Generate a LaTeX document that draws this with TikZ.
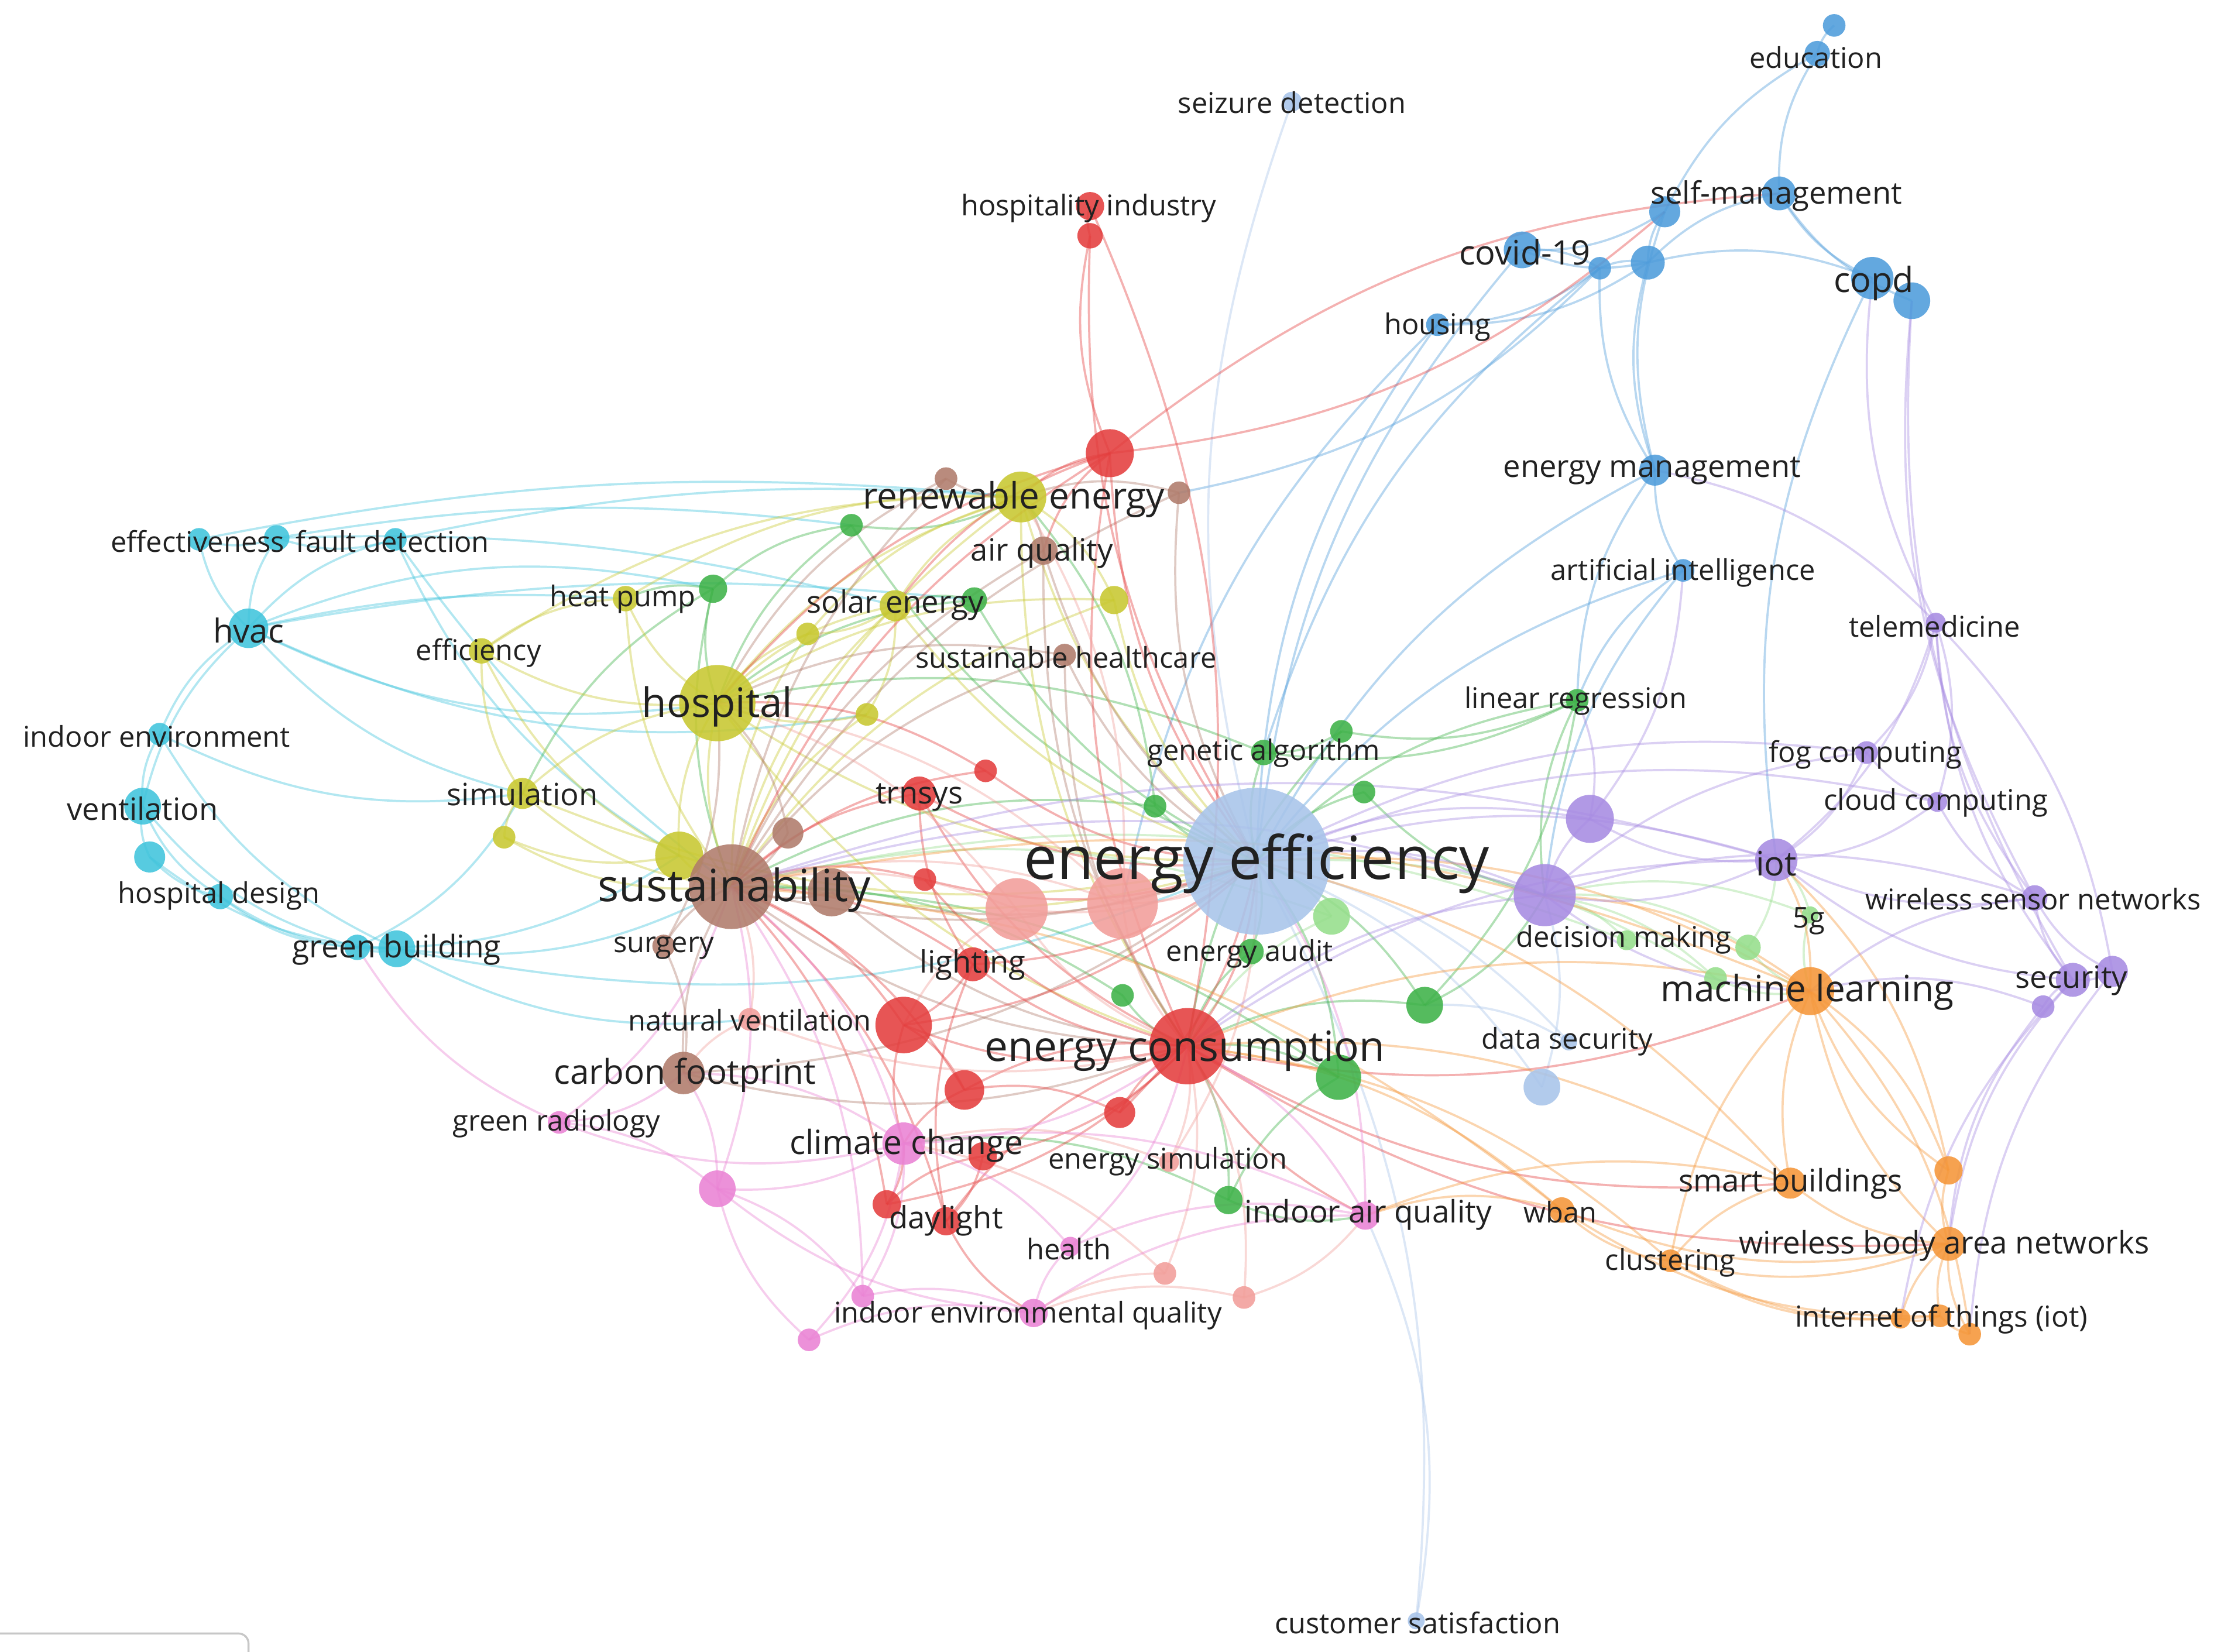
\documentclass[tikz,border=0pt]{standalone}
\usepackage{fontspec}
\setmainfont{Open Sans}
\pgfdeclarelayer{bg}
\pgfsetlayers{bg,main}
\definecolor{cred}{RGB}{228,62,62}
\definecolor{cgreen}{RGB}{62,178,72}
\definecolor{cblue}{RGB}{78,156,219}
\definecolor{cyel}{RGB}{200,200,48}
\definecolor{cpur}{RGB}{167,139,226}
\definecolor{clblue}{RGB}{168,196,234}
\definecolor{corange}{RGB}{245,150,56}
\definecolor{cbrown}{RGB}{176,124,108}
\definecolor{cpink}{RGB}{234,130,212}
\definecolor{ccyan}{RGB}{64,196,220}
\definecolor{csalmon}{RGB}{242,158,154}
\definecolor{clgreen}{RGB}{150,222,140}
\tikzset{
  nd/.style 2 args={circle, inner sep=0pt, fill=#1, fill opacity=.88, minimum size=#2*0.05cm},
  lbl/.style={inner sep=0pt, yshift=-1.8pt, text=black!87, font=\fontsize{#1}{#1}\selectfont},
  edge/.style={draw=#1, draw opacity=.4, line width=1.1pt, bend right=17},
  longedge/.style={draw=#1, draw opacity=.4, line width=1.1pt, bend right=8}
}
\begin{document}
\begin{tikzpicture}[x=0.025cm, y=-0.025cm]
\useasboundingbox (0,0) rectangle (1568,1170);
% ---------- nodes ----------
% blue
\node[nd={cblue}{8}] (b1) at (1299,18) {};
\node[nd={cblue}{9}] (edu) at (1287,38) {};
\node[nd={cblue}{12}] (selfm) at (1260,137) {};
\node[nd={cblue}{11}] (b4) at (1179,150) {};
\node[nd={cblue}{12}] (b5) at (1167,186) {};
\node[nd={cblue}{8}] (b6) at (1133,190) {};
\node[nd={cblue}{13}] (covid) at (1078,177) {};
\node[nd={cblue}{15}] (copd) at (1326,197) {};
\node[nd={cblue}{13}] (b9) at (1354,213) {};
\node[nd={cblue}{8}] (housing) at (1018,230) {};
\node[nd={cblue}{11}] (emgmt) at (1172,333) {};
\node[nd={cblue}{8}] (ai) at (1192,404) {};
% light blue
\node[nd={clblue}{52}] (ee) at (890,610) {};
\node[nd={clblue}{7}] (seiz) at (915,72) {};
\node[nd={clblue}{6}] (cust) at (1003,1148) {};
\node[nd={clblue}{6}] (dsec) at (1111,738) {};
\node[nd={clblue}{13}] (lb2) at (1092,770) {};
% green
\node[nd={cgreen}{8}] (g1) at (603,372) {};
\node[nd={cgreen}{10}] (g2) at (505,417) {};
\node[nd={cgreen}{9}] (g3) at (690,425) {};
\node[nd={cgreen}{9}] (ga) at (895,533) {};
\node[nd={cgreen}{8}] (g5) at (950,518) {};
\node[nd={cgreen}{8}] (g6) at (966,561) {};
\node[nd={cgreen}{8}] (g7) at (818,571) {};
\node[nd={cgreen}{9}] (eaudit) at (886,674) {};
\node[nd={cgreen}{8}] (g9) at (795,705) {};
\node[nd={cgreen}{13}] (g10) at (1009,712) {};
\node[nd={cgreen}{16}] (g11) at (948,763) {};
\node[nd={cgreen}{10}] (g12) at (870,850) {};
\node[nd={cgreen}{8}] (linreg) at (1117,496) {};
% light green
\node[nd={clgreen}{13}] (lg1) at (943,649) {};
\node[nd={clgreen}{7}] (lg2) at (1152,666) {};
\node[nd={clgreen}{9}] (lg3) at (1238,671) {};
\node[nd={clgreen}{8}] (lg4) at (1215,693) {};
\node[nd={clgreen}{6}] (fiveg) at (1282,648) {};
% yellow
\node[nd={cyel}{18}] (renew) at (723,352) {};
\node[nd={cyel}{9}] (heatp) at (443,424) {};
\node[nd={cyel}{9}] (effic) at (341,461) {};
\node[nd={cyel}{11}] (solar) at (634,429) {};
\node[nd={cyel}{8}] (y5) at (572,449) {};
\node[nd={cyel}{10}] (y6) at (789,425) {};
\node[nd={cyel}{27}] (hosp) at (508,498) {};
\node[nd={cyel}{8}] (y8) at (614,506) {};
\node[nd={cyel}{11}] (simul) at (370,562) {};
\node[nd={cyel}{8}] (y10) at (357,593) {};
\node[nd={cyel}{17}] (y11) at (481,606) {};
% brown
\node[nd={cbrown}{30}] (sust) at (518,628) {};
\node[nd={cbrown}{17}] (br2) at (589,632) {};
\node[nd={cbrown}{11}] (br3) at (558,590) {};
\node[nd={cbrown}{8}] (br4) at (670,339) {};
\node[nd={cbrown}{8}] (br5) at (835,349) {};
\node[nd={cbrown}{10}] (airq) at (739,390) {};
\node[nd={cbrown}{8}] (shc) at (754,464) {};
\node[nd={cbrown}{8}] (surg) at (470,670) {};
\node[nd={cbrown}{15}] (carbon) at (484,760) {};
% red
\node[nd={cred}{10}] (hospind) at (772,146) {};
\node[nd={cred}{9}] (r2) at (772,167) {};
\node[nd={cred}{17}] (r3) at (786,321) {};
\node[nd={cred}{12}] (trnsys) at (651,562) {};
\node[nd={cred}{8}] (r5) at (698,546) {};
\node[nd={cred}{8}] (r6) at (655,623) {};
\node[nd={cred}{12}] (light) at (689,683) {};
\node[nd={cred}{20}] (r8) at (640,726) {};
\node[nd={cred}{27}] (econs) at (841,741) {};
\node[nd={cred}{14}] (r10) at (683,772) {};
\node[nd={cred}{11}] (r11) at (793,788) {};
\node[nd={cred}{10}] (r12) at (696,819) {};
\node[nd={cred}{10}] (r13) at (628,853) {};
\node[nd={cred}{10}] (dayl) at (670,865) {};
% salmon
\node[nd={csalmon}{22}] (s1) at (720,644) {};
\node[nd={csalmon}{25}] (s2) at (795,640) {};
\node[nd={csalmon}{7}] (esim) at (828,823) {};
\node[nd={csalmon}{8}] (s4) at (825,902) {};
\node[nd={csalmon}{8}] (s5) at (881,919) {};
\node[nd={csalmon}{8}] (natv) at (531,722) {};
% pink
\node[nd={cpink}{15}] (climate) at (640,810) {};
\node[nd={cpink}{8}] (greenrad) at (396,795) {};
\node[nd={cpink}{13}] (p3) at (508,842) {};
\node[nd={cpink}{7}] (health) at (758,883) {};
\node[nd={cpink}{10}] (ieq) at (732,930) {};
\node[nd={cpink}{8}] (p6) at (611,918) {};
\node[nd={cpink}{8}] (p7) at (573,949) {};
\node[nd={cpink}{10}] (iaq) at (967,861) {};
% orange
\node[nd={corange}{17}] (ml) at (1282,702) {};
\node[nd={corange}{11}] (smartb) at (1268,838) {};
\node[nd={corange}{10}] (o3) at (1380,829) {};
\node[nd={corange}{9}] (wban) at (1106,857) {};
\node[nd={corange}{8}] (clust) at (1183,893) {};
\node[nd={corange}{12}] (wban2) at (1380,881) {};
\node[nd={corange}{7}] (iot1) at (1346,934) {};
\node[nd={corange}{8}] (iot2) at (1374,932) {};
\node[nd={corange}{8}] (iot3) at (1395,945) {};
% purple
\node[nd={cpur}{17}] (pu1) at (1126,580) {};
\node[nd={cpur}{22}] (dm) at (1094,634) {};
\node[nd={cpur}{15}] (iot) at (1258,609) {};
\node[nd={cpur}{8}] (fog) at (1322,533) {};
\node[nd={cpur}{7}] (cloud) at (1372,568) {};
\node[nd={cpur}{7}] (tele) at (1371,441) {};
\node[nd={cpur}{9}] (wsn) at (1441,636) {};
\node[nd={cpur}{12}] (secu) at (1468,694) {};
\node[nd={cpur}{11}] (pu8) at (1496,688) {};
\node[nd={cpur}{8}] (pu9) at (1447,713) {};
% cyan
\node[nd={ccyan}{8}] (effect) at (141,382) {};
\node[nd={ccyan}{9}] (cy2) at (196,381) {};
\node[nd={ccyan}{8}] (fault) at (280,382) {};
\node[nd={ccyan}{14}] (hvac) at (176,445) {};
\node[nd={ccyan}{8}] (indenv) at (113,520) {};
\node[nd={ccyan}{13}] (vent) at (101,571) {};
\node[nd={ccyan}{11}] (cy7) at (106,607) {};
\node[nd={ccyan}{9}] (hdesign) at (156,635) {};
\node[nd={ccyan}{9}] (gb1) at (253,671) {};
\node[nd={ccyan}{13}] (gb2) at (281,672) {};
% ---------- edges ----------
\begin{pgfonlayer}{bg}
\fill[white] (0,0) rectangle (1568,1170);
\foreach \a/\b in {effect/hvac, cy2/hvac, fault/hvac, effect/cy2, cy2/fault, hvac/indenv, indenv/vent, vent/cy7, cy7/hdesign, hdesign/gb1, gb1/gb2, vent/gb1, cy7/gb2, hvac/vent, hvac/simul, hvac/hosp, indenv/simul, hvac/y8, gb2/sust, gb2/natv, gb1/simul, gb1/y11, hdesign/gb2, gb2/ee, fault/y11, indenv/gb2, vent/hdesign, g2/hvac}
  \draw[edge=ccyan] (\a.center) to (\b.center);
\foreach \a/\b in {heatp/hvac, g3/hvac, renew/effect, g1/cy2, solar/cy2, renew/fault, fault/sust}
  \draw[longedge=ccyan] (\a.center) to (\b.center);
\foreach \a/\b in {b1/edu, edu/selfm, edu/b4, selfm/copd, selfm/b9, copd/b5, b4/b5, b5/b6, b6/covid, covid/b5, housing/b5, housing/b6, b4/emgmt, b5/emgmt, emgmt/ai, emgmt/ee, ai/ee, covid/ee, housing/ee, b6/ga, emgmt/linreg, ai/linreg, ai/dm, br5/b6, housing/s2, covid/b4, selfm/b5, b6/emgmt, copd/iot}
  \draw[edge=cblue] (\a.center) to (\b.center);
\foreach \a/\b in {seiz/ee, cust/ee, dsec/ee, lb2/ee, lb2/dm, dsec/g10, cust/iaq}
  \draw[edge=clblue] (\a.center) to (\b.center);
\foreach \a/\b in {g1/renew, g1/hosp, g1/g2, g2/heatp, g2/hosp, g2/sust, g3/solar, g3/ee, g3/hosp, ga/ee, ga/g5, g5/linreg, g6/ee, g7/ee, g7/sust, eaudit/ee, eaudit/econs, g9/econs, g9/sust, g10/ee, g10/econs, g10/dm, g11/econs, g11/ee, g11/g12, g12/econs, g12/iaq, linreg/ee, linreg/dm, g10/linreg, ga/hosp, g5/econs, g6/dm, g11/sust, g12/climate, g7/renew, ga/linreg, g1/ee, g2/simul}
  \draw[edge=cgreen] (\a.center) to (\b.center);
\foreach \a/\b in {lg1/ee, lg1/econs, lg2/dm, lg3/ml, lg3/iot, lg4/ml, lg4/ee, fiveg/iot, fiveg/ml, lg2/sust, lg3/dm, lg4/dm, lg1/sust, fiveg/dm}
  \draw[edge=clgreen] (\a.center) to (\b.center);
\foreach \a/\b in {renew/hosp, renew/solar, renew/sust, renew/ee, renew/heatp, renew/effic, heatp/hosp, heatp/effic, effic/hosp, effic/simul, solar/hosp, solar/sust, y5/hosp, y5/solar, y6/renew, y6/hosp, y6/sust, hosp/sust, hosp/y11, hosp/simul, hosp/ee, hosp/y8, y8/solar, simul/y10, simul/sust, y10/y11, y11/sust, y11/ee, hosp/econs, renew/econs, effic/y11, heatp/sust, y5/sust, y6/ee, solar/ee, y10/sust, simul/ee, y8/sust, renew/y5}
  \draw[edge=cyel] (\a.center) to (\b.center);
\foreach \a/\b in {sust/br2, sust/br3, sust/ee, sust/econs, sust/carbon, sust/surg, br4/renew, br4/sust, br5/renew, br5/ee, airq/renew, airq/sust, airq/econs, shc/sust, shc/ee, shc/hosp, carbon/surg, carbon/ee, br2/ee, br3/hosp, surg/hosp, br2/econs, br4/hosp, br5/sust, airq/ee, shc/econs, carbon/econs}
  \draw[edge=cbrown] (\a.center) to (\b.center);
\foreach \a/\b in {hospind/r2, r2/r3, econs/hospind, r3/renew, r3/ee, r3/sust, r3/hosp, r3/b4, selfm/r3, trnsys/sust, trnsys/econs, trnsys/light, r5/ee, r5/hosp, r6/sust, r6/econs, light/econs, light/sust, light/dayl, r8/econs, r8/sust, r8/ee, r8/climate, econs/ee, econs/r10, econs/r11, econs/dayl, econs/iaq, econs/ml, econs/smartb, r10/sust, r10/climate, r11/ee, r12/econs, r13/sust, r13/climate, dayl/ieq, dayl/sust, r3/airq, r3/solar, r3/econs, r10/r8, r11/r10, r12/r13, dayl/r12, r5/sust, trnsys/ee, light/ee, econs/wban2, r8/light, r13/econs, r6/ee, r2/ee}
  \draw[edge=cred] (\a.center) to (\b.center);
\foreach \a/\b in {s1/ee, s1/sust, s1/econs, s2/ee, s2/sust, s2/econs, s2/hosp, esim/econs, esim/ee, s4/econs, s4/ieq, s5/econs, s5/iaq, natv/sust, natv/carbon, s1/hosp, s1/r8, s2/renew, esim/climate, s4/climate, s5/ieq, natv/econs}
  \draw[edge=csalmon] (\a.center) to (\b.center);
\foreach \a/\b in {climate/sust, climate/econs, climate/carbon, greenrad/carbon, greenrad/sust, p3/carbon, p3/climate, p3/p7, p3/ieq, p3/sust, health/climate, health/ieq, ieq/p6, ieq/p7, p6/climate, p7/climate, iaq/econs, iaq/ee, iaq/ieq, iaq/health, p6/sust, p3/greenrad, iaq/climate, health/econs, greenrad/climate, p6/p3, gb1/greenrad}
  \draw[edge=cpink] (\a.center) to (\b.center);
\foreach \a/\b in {ml/iot, ml/smartb, ml/o3, ml/wban2, ml/clust, ml/ee, ml/econs, ml/dm, smartb/wban2, smartb/clust, smartb/ee, o3/wban2, o3/iot, wban/clust, wban/iaq, wban/econs, clust/wban2, clust/iot1, clust/iot2, wban2/iot1, wban2/iot2, wban2/iot3, iot1/iot2, iot2/iot3, wban/wban2, smartb/iaq, iot3/ml, ml/sust, wban/iot2, clust/econs, smartb/econs, wban/sust, o3/ml}
  \draw[edge=corange] (\a.center) to (\b.center);
\foreach \a/\b in {pu1/ee, pu1/dm, pu1/iot, pu1/linreg, dm/ee, dm/iot, dm/ml, iot/fog, iot/cloud, iot/tele, iot/wsn, iot/secu, iot/ee, fog/cloud, fog/tele, cloud/wsn, cloud/tele, wsn/secu, wsn/pu8, secu/pu8, secu/pu9, pu9/ml, tele/wsn, tele/secu, pu8/tele, dm/econs, iot/econs, pu9/wban2, secu/wban2, wsn/ml, fog/dm, pu1/ai, copd/tele, b9/wsn, b9/secu, tele/emgmt, iot/sust, dm/sust, fog/ee, cloud/ee, wsn/dm, secu/iot1, pu8/iot3}
  \draw[edge=cpur] (\a.center) to (\b.center);
\end{pgfonlayer}
% ---------- labels ----------
\node[lbl=14.4] (t-edu) at (1286,38) {education};
\node[lbl=15.5] (t-selfm) at (1258,136) {self-management};
\node[lbl=17] (t-covid) at (1080,176) {covid-19};
\node[lbl=17.5] (t-copd) at (1327,198) {copd};
\node[lbl=14.4] (t-housing) at (1018,229) {housing};
\node[lbl=15.5] (t-emgmt) at (1170,331) {energy management};
\node[lbl=14.4] (t-ai) at (1192,403) {artificial intelligence};
\node[lbl=14.4] (t-seiz) at (915,70) {seizure detection};
\node[lbl=14.4] (t-cust) at (1004,1147) {customer satisfaction};
\node[lbl=14.4] (t-dsec) at (1110,735) {data security};
\node[lbl=30] (t-ee) at (890,609) {energy efficiency};
\node[lbl=14.4] (t-hospind) at (771,145) {hospitality industry};
\node[lbl=18.3] (t-renew) at (718,351) {renewable energy};
\node[lbl=15.5] (t-airq) at (738,389) {air quality};
\node[lbl=14.4] (t-heatp) at (441,422) {heat pump};
\node[lbl=15.5] (t-solar) at (634,426) {solar energy};
\node[lbl=14.4] (t-shc) at (755,463) {sustainable healthcare};
\node[lbl=14.4] (t-effic) at (339,460) {efficiency};
\node[lbl=20.4] (t-hosp) at (508,498) {hospital};
\node[lbl=14.4] (t-ga) at (895,531) {genetic algorithm};
\node[lbl=14.4] (t-linreg) at (1116,494) {linear regression};
\node[lbl=14.4] (t-tele) at (1370,441) {telemedicine};
\node[lbl=14.4] (t-fog) at (1321,532) {fog computing};
\node[lbl=14.4] (t-cloud) at (1371,566) {cloud computing};
\node[lbl=15.5] (t-simul) at (370,560) {simulation};
\node[lbl=15.5] (t-trnsys) at (651,562) {trnsys};
\node[lbl=17] (t-iot) at (1258,609) {iot};
\node[lbl=14.4] (t-wsn) at (1440,634) {wireless sensor networks};
\node[lbl=22.4] (t-sust) at (520,628) {sustainability};
\node[lbl=14.4] (t-dm) at (1150,663) {decision making};
\node[lbl=14.4] (t-fiveg) at (1281,650) {5g};
\node[lbl=14.4] (t-surg) at (470,669) {surgery};
\node[lbl=15.5] (t-light) at (689,681) {lighting};
\node[lbl=14.4] (t-eaudit) at (885,673) {energy audit};
\node[lbl=18.3] (t-ml) at (1280,700) {machine learning};
\node[lbl=15.5] (t-secu) at (1467,692) {security};
\node[lbl=14.4] (t-natv) at (531,720) {natural ventilation};
\node[lbl=21] (t-econs) at (839,742) {energy consumption};
\node[lbl=17.2] (t-carbon) at (485,759) {carbon footprint};
\node[lbl=14.4] (t-greenrad) at (394,793) {green radiology};
\node[lbl=16.8] (t-climate) at (642,809) {climate change};
\node[lbl=14.4] (t-esim) at (827,820) {energy simulation};
\node[lbl=15.6] (t-smartb) at (1268,836) {smart buildings};
\node[lbl=15.6] (t-iaq) at (969,858) {indoor air quality};
\node[lbl=14.4] (t-wban) at (1105,856) {wban};
\node[lbl=15.5] (t-dayl) at (670,862) {daylight};
\node[lbl=14.4] (t-health) at (757,882) {health};
\node[lbl=14.4] (t-clust) at (1183,892) {clustering};
\node[lbl=15.6] (t-wban2) at (1377,880) {wireless body area networks};
\node[lbl=14.4] (t-ieq) at (728,929) {indoor environmental quality};
\node[lbl=14.6] (t-iotl) at (1375,932) {internet of things (iot)};
\node[lbl=14.4] (t-effect) at (140,381) {effectiveness};
\node[lbl=14.4] (t-fault) at (278,381) {fault detection};
\node[lbl=16.6] (t-hvac) at (176,444) {hvac};
\node[lbl=14.4] (t-indenv) at (111,519) {indoor environment};
\node[lbl=15.5] (t-vent) at (101,570) {ventilation};
\node[lbl=14.4] (t-hdesign) at (155,632) {hospital design};
\node[lbl=15.7] (t-gb) at (281,670) {green building};
% bottom-left frame remnant
\draw[black!22, line width=1pt, rounded corners=5pt] (0,1157) -- (176,1157) -- (176,1175);
\end{tikzpicture}
\end{document}
